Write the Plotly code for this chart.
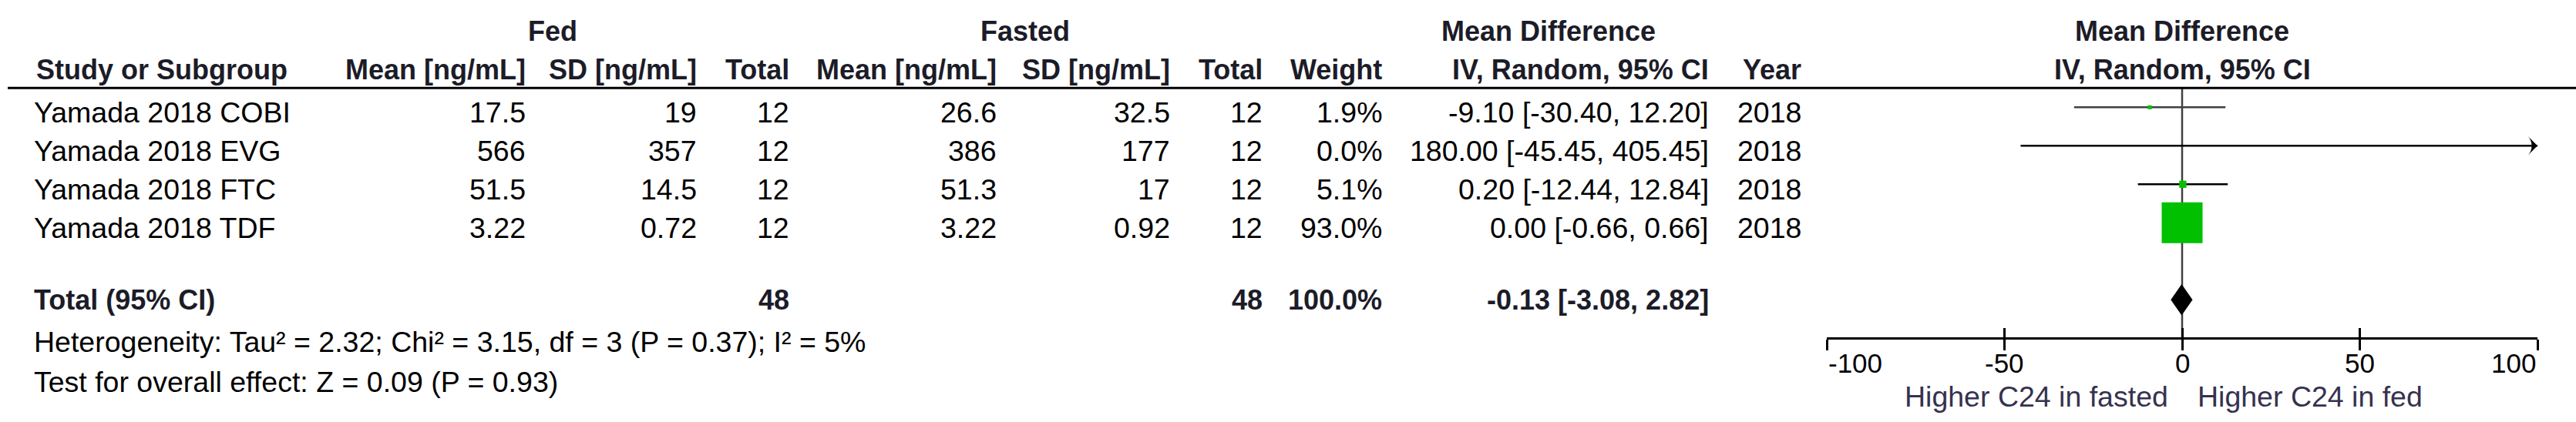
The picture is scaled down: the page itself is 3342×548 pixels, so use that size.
import plotly.graph_objects as go

# Studien (Fed vs. Fasted, C24)
studies = ["Yamada 2018 COBI", "Yamada 2018 EVG", "Yamada 2018 FTC", "Yamada 2018 TDF"]
fed_mean = [17.5, 566, 51.5, 3.22]
fed_sd = [19, 357, 14.5, 0.72]
fed_n = [12, 12, 12, 12]
fasted_mean = [26.6, 386, 51.3, 3.22]
fasted_sd = [32.5, 177, 17, 0.92]
fasted_n = [12, 12, 12, 12]
weight = [1.9, 0.0, 5.1, 93.0]
md = [-9.10, 180.00, 0.20, 0.00]
ci_lo = [-30.40, -45.45, -12.44, -0.66]
ci_hi = [12.20, 405.45, 12.84, 0.66]
year = [2018, 2018, 2018, 2018]

# Gesamtschaetzer
total_fed_n = 48
total_fasted_n = 48
total_weight = 100.0
total_md = -0.13
total_lo = -3.08
total_hi = 2.82
heterogeneity = "Heterogeneity: Tau² = 2.32; Chi² = 3.15, df = 3 (P = 0.37); I² = 5%"
overall = "Test for overall effect: Z = 0.09 (P = 0.93)"

axis_ticks = [-100, -50, 0, 50, 100]
label_left = "Higher C24 in fasted"
label_right = "Higher C24 in fed"

# Geometrie (Pixel)
W, H = 3342, 548
ROW_PX = 50.0
ROW0_PX = 139.3
X_LEFT, X_RIGHT = 2370, 3292
y_top = -ROW0_PX / ROW_PX
y_bot = (H - ROW0_PX) / ROW_PX
AXIS_ROW = 6
TOTAL_ROW = 5
TXT = 0.134     # Textmitte liegt etwas unter der Linie
TXT_HEAD = 0.03

FONT = "Liberation Sans, Arial, sans-serif"
AXIS_TXT = "#36324f"
GREEN = "#00c000"
FS = 37.5
FS_B = 36

col = {"fed_mean": 684, "fed_sd": 906, "fed_n": 1026,
       "fas_mean": 1295, "fas_sd": 1520, "fas_n": 1640,
       "weight": 1795, "ci": 2219, "year": 2339}

annotations = []


def label(text, x, y, anchor="right", bold=False, size=FS, color="black", xref="paper", xshift=0):
    annotations.append(dict(
        text="<b>%s</b>" % text if bold else text,
        x=x / W if xref == "paper" else x, y=y, xref=xref, yref="y",
        xanchor=anchor, yanchor="middle", showarrow=False, xshift=xshift,
        font=dict(family=FONT, size=size, color=color)))


def num(v):
    return ("%g" % v)


# Kopfzeilen
hcol = "#1c1c28"
label("Fed", 717, -2 + TXT_HEAD, "center", True, FS_B, hcol)
label("Fasted", 1330, -2 + TXT_HEAD, "center", True, FS_B, hcol)
label("Mean Difference", 2009, -2 + TXT_HEAD, "center", True, FS_B, hcol)
label("Mean Difference", 0, -2 + TXT_HEAD, "center", True, FS_B, hcol, xref="x")
label("Study or Subgroup", 45, -1 + TXT_HEAD, "left", True, FS_B, hcol)
for key, txt in [("fed_mean", "Mean [ng/mL]"), ("fed_sd", "SD [ng/mL]"), ("fed_n", "Total"),
                 ("fas_mean", "Mean [ng/mL]"), ("fas_sd", "SD [ng/mL]"), ("fas_n", "Total"),
                 ("weight", "Weight"), ("ci", "IV, Random, 95% CI"), ("year", "Year")]:
    label(txt, col[key], -1 + TXT_HEAD, "right", True, FS_B, hcol)
label("IV, Random, 95% CI", 0, -1 + TXT_HEAD, "center", True, FS_B, hcol, xref="x")

# Studienzeilen
for i, s in enumerate(studies):
    y = i + TXT
    label(s, 42, y, "left")
    label(num(fed_mean[i]), col["fed_mean"], y)
    label(num(fed_sd[i]), col["fed_sd"], y)
    label(str(fed_n[i]), col["fed_n"], y)
    label(num(fasted_mean[i]), col["fas_mean"], y)
    label(num(fasted_sd[i]), col["fas_sd"], y)
    label(str(fasted_n[i]), col["fas_n"], y)
    label("%.1f%%" % weight[i], col["weight"], y)
    label("%.2f [%.2f, %.2f]" % (md[i], ci_lo[i], ci_hi[i]), col["ci"], y)
    label(str(year[i]), col["year"], y)

# Gesamtzeile
y = TOTAL_ROW + 0.01
label("Total (95% CI)", 42, y, "left", True, FS_B, hcol)
label(str(total_fed_n), col["fed_n"], y, bold=True, size=FS_B, color=hcol)
label(str(total_fasted_n), col["fas_n"], y, bold=True, size=FS_B, color=hcol)
label("%.1f%%" % total_weight, col["weight"], y, bold=True, size=FS_B, color=hcol)
label("%.2f [%.2f, %.2f]" % (total_md, total_lo, total_hi), col["ci"], y, bold=True, size=FS_B, color=hcol)
label(heterogeneity, 42, 6.10, "left")
label(overall, 42, 7.13, "left")

# Achsenbeschriftung
for t in axis_ticks:
    anchor = "left" if t == axis_ticks[0] else ("right" if t == axis_ticks[-1] else "center")
    label(str(t), t, 6.64, anchor, size=35, xref="x")
label(label_left, 0, 7.51, "right", color=AXIS_TXT, xref="x", xshift=-16)
label(label_right, 0, 7.51, "left", color=AXIS_TXT, xref="x", xshift=18)

fig = go.Figure()

# Nulllinie
fig.add_trace(go.Scatter(x=[0, 0], y=[-0.5, AXIS_ROW], mode="lines",
                         line=dict(color="#404040", width=2.5), hoverinfo="skip"))

# Konfidenzintervalle
ci_colors = ["#404040", "black", "black", "black"]
for i in range(len(studies)):
    fig.add_trace(go.Scatter(x=[max(ci_lo[i], axis_ticks[0]), min(ci_hi[i], axis_ticks[-1])], y=[i, i],
                             mode="lines", line=dict(color=ci_colors[i], width=2.5), cliponaxis=False))

# Pfeil bei abgeschnittenem Intervall
arr = [i for i in range(len(studies)) if ci_hi[i] > axis_ticks[-1]]
fig.add_trace(go.Scatter(x=[axis_ticks[-1]] * len(arr), y=arr, mode="markers", cliponaxis=False,
                         marker=dict(symbol="arrow-wide", angle=90, size=18, color="black",
                                     opacity=1, line=dict(width=0))))

# Gewichtsquadrate
sizes = [53 * (w / max(weight)) ** 0.6 for w in weight]
fig.add_trace(go.Scatter(x=md, y=list(range(len(studies))), mode="markers",
                         marker=dict(symbol="square", size=sizes, color=GREEN, opacity=1,
                                     line=dict(width=0))))

# Raute fuer Gesamtschaetzer
h = 0.39
fig.add_trace(go.Scatter(x=[total_lo, total_md, total_hi, total_md, total_lo],
                         y=[TOTAL_ROW, TOTAL_ROW - h, TOTAL_ROW, TOTAL_ROW + h, TOTAL_ROW],
                         mode="lines", fill="toself", fillcolor="black",
                         line=dict(color="black", width=1)))

# Hilfstrace fuer zweite x-Achse (Ticks nach innen)
fig.add_trace(go.Scatter(x=[0], y=[AXIS_ROW], xaxis="x2", mode="markers",
                         marker=dict(opacity=0), hoverinfo="skip"))

axis_pos = (y_bot - AXIS_ROW) / (y_bot - y_top)
dom = [X_LEFT / W, X_RIGHT / W]
common = dict(domain=dom, range=[axis_ticks[0], axis_ticks[-1]], tickvals=axis_ticks,
              showticklabels=False, showgrid=False, zeroline=False,
              anchor="free", position=axis_pos, tickcolor="black", tickwidth=2.5, fixedrange=True)

fig.update_layout(
    width=W, height=H,
    margin=dict(l=0, r=0, t=0, b=0),
    paper_bgcolor="white", plot_bgcolor="white",
    showlegend=False,
    xaxis=dict(common, showline=True, linecolor="black", linewidth=3, ticks="outside", ticklen=14),
    xaxis2=dict(common, overlaying="x", showline=False, ticks="inside", ticklen=13),
    yaxis=dict(domain=[0, 1], range=[y_bot, y_top], visible=False, fixedrange=True),
    annotations=annotations,
    shapes=[dict(type="line", xref="paper", yref="y", x0=10 / W, x1=1, y0=-0.5, y1=-0.5,
                 line=dict(color="black", width=3))],
)

# Seitenrand des Browsers entfernen, damit das Bild bei 0,0 beginnt
fig.write_html("out.html", config={"displayModeBar": False},
               post_script="document.body.style.margin='0';")
